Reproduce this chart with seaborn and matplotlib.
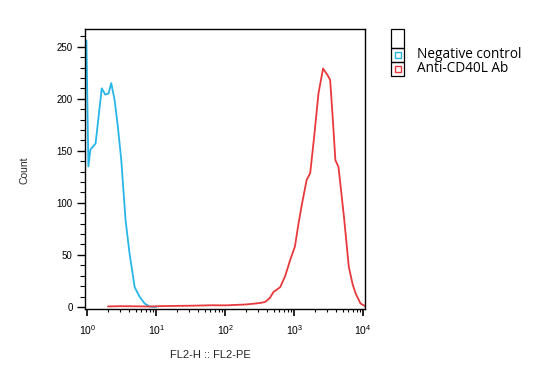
import numpy as np
import pandas as pd
import matplotlib
matplotlib.use("Agg")
import matplotlib.pyplot as plt
import seaborn as sns
from matplotlib.patches import Rectangle
from matplotlib.ticker import LogLocator, MultipleLocator

# histogram traces (FL2-PE intensity vs count)
neg_x = [0.965, 1.03, 1.1, 1.31, 1.61, 1.81, 2.02, 2.21, 2.47, 2.76, 3.09, 3.57,
         4.08, 4.83, 5.71, 6.76, 7.94, 9.0, 10.0]
neg_count = [256, 135, 151, 157, 210, 204, 205, 215, 199, 173, 141, 83,
             51, 19, 9.6, 3.2, 0.5, 0, 0]

ab_x = [1.98, 3.0, 5.0, 8.0, 12.0, 20, 35, 63, 100, 150, 193, 250, 320, 378, 440,
        500, 624, 740, 870, 1020, 1150, 1300, 1510, 1700, 1950, 2240, 2610, 2800,
        3020, 3310, 3620, 3940, 4370, 5250, 6170, 7000, 7760, 9120, 10700]
ab_count = [0.5, 0.7, 0.6, 0.4, 0.8, 1.0, 1.2, 1.6, 1.5, 2.0, 2.3, 3.0, 3.8, 4.8, 8.5,
            14.4, 19, 30, 45, 58, 80, 100, 122, 128.5, 165, 205, 229, 226,
            223, 218, 180, 141, 134.6, 86.5, 38.5, 22, 12.9, 3.3, 0.7]

labels = ["Negative control", "Anti-CD40L Ab"]
colors = ["#27b6e8", "#e8393c"]

df = pd.concat([
    pd.DataFrame({"x": neg_x, "count": neg_count, "sample": labels[0]}),
    pd.DataFrame({"x": ab_x, "count": ab_count, "sample": labels[1]}),
])

sns.set_theme(style="white")
plt.rcParams["font.family"] = ["Liberation Sans", "DejaVu Sans"]
plt.rcParams["mathtext.fontset"] = "custom"
plt.rcParams["mathtext.rm"] = "Liberation Sans"
plt.rcParams["mathtext.it"] = "Liberation Sans:italic"
plt.rcParams["mathtext.bf"] = "Liberation Sans:bold"

fig = plt.figure(figsize=(5.41, 3.88), dpi=100)
W, H = 541, 388
ax = fig.add_axes([85 / W, 1 - 309 / H, 280 / W, 280 / H])

sns.lineplot(data=df, x="x", y="count", hue="sample", palette=colors,
             hue_order=labels, sort=False, estimator=None, linewidth=1.3,
             legend=False, ax=ax)

ax.set_xscale("log")
ax.set_xlim(0.92, 10600)
ax.set_ylim(-2, 267)
ax.xaxis.set_major_locator(LogLocator(base=10, numticks=10))
ax.xaxis.set_minor_locator(LogLocator(base=10, subs=np.arange(2, 10), numticks=20))
ax.yaxis.set_major_locator(MultipleLocator(50))
ax.yaxis.set_minor_locator(MultipleLocator(10))

for s in ax.spines.values():
    s.set_color("black")
    s.set_linewidth(1.0)

ax.tick_params(axis="both", which="both", direction="out", colors="black",
               labelsize=7, left=True, bottom=True, top=False, right=False)
ax.tick_params(axis="y", which="major", length=6, width=1, pad=3)
ax.tick_params(axis="y", which="minor", length=3.5, width=0.8)
ax.tick_params(axis="x", which="major", length=5, width=1.2, pad=5, labelsize=7.5)
ax.tick_params(axis="x", which="minor", length=2.5, width=0.8)

ax.set_xlabel("FL2-H :: FL2-PE", fontsize=8)
ax.set_ylabel("Count", fontsize=7.5)
ax.xaxis.set_label_coords((210 - 85) / 280, (309 - 350) / 280)
ax.yaxis.set_label_coords((30 - 85) / 280, (309 - 170) / 280)

# legend drawn as a small table of boxes
def fx(px):
    return px / W

def fy(py):
    return 1 - py / H

rows = [(29.3, 47.7), (47.7, 61.7), (61.7, 76.0)]
for top, bot in rows:
    fig.add_artist(Rectangle((fx(390.7), fy(bot)), 13.6 / W, (bot - top) / H,
                             transform=fig.transFigure, fill=False,
                             edgecolor="black", linewidth=0.9))
for (top, bot), col, lab in zip(rows[1:], colors, labels):
    mid = (top + bot) / 2
    fig.add_artist(Rectangle((fx(395), fy(mid + 3)), 6 / W, 6 / H,
                             transform=fig.transFigure, fill=False,
                             edgecolor=col, linewidth=1.0))
    fig.text(fx(417), fy(mid), lab, fontsize=9.8, va="center", ha="left",
             family=["Open Sans", "DejaVu Sans"], color="black")

fig.savefig("out.png", dpi=100)
